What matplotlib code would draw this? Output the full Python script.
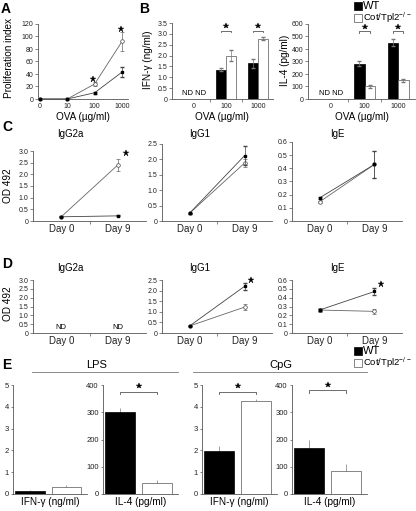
import numpy as np
import matplotlib
matplotlib.use("Agg")
from matplotlib import pyplot as plt

plt.rcParams['font.family'] = ['Liberation Sans', 'DejaVu Sans']

W, H = 416, 511

# ---- data ----
ova_doses = ['0', '10', '100', '1000']
prolif_wt = [0, 0, 10, 43]
prolif_wt_err = [0, 0, 1.5, 8]
prolif_ko = [0, 0, 24, 92]
prolif_ko_err = [0, 0, 3, 15]

b_doses = ['0', '100', '1000']
ifng_wt = [np.nan, 1.35, 1.65]
ifng_wt_err = [0, 0.07, 0.2]
ifng_ko = [np.nan, 2.0, 2.78]
ifng_ko_err = [0, 0.27, 0.08]
il4_wt = [np.nan, 280, 450]
il4_wt_err = [0, 20, 30]
il4_ko = [np.nan, 100, 148]
il4_ko_err = [0, 15, 12]

days = ['Day 0', 'Day 9']
c_igg2a_wt = [0.18, 0.22]
c_igg2a_wt_err = [0.02, 0.02]
c_igg2a_ko = [0.18, 2.4]
c_igg2a_ko_err = [0.02, 0.25]
c_igg1_wt = [0.25, 2.12]
c_igg1_wt_err = [0.02, 0.3]
c_igg1_ko = [0.25, 1.88]
c_igg1_ko_err = [0.02, 0.12]
c_ige_wt = [0.175, 0.43]
c_ige_wt_err = [0.01, 0.1]
c_ige_ko = [0.145, 0.43]
c_ige_ko_err = [0.01, 0.1]

d_igg1_wt = [0.33, 2.2]
d_igg1_wt_err = [0.02, 0.15]
d_igg1_ko = [0.33, 1.22]
d_igg1_ko_err = [0.02, 0.15]
d_ige_wt = [0.26, 0.47]
d_ige_wt_err = [0.01, 0.04]
d_ige_ko = [0.26, 0.245]
d_ige_ko_err = [0.02, 0.03]

e_lps_ifng = [0.15, 0.33]
e_lps_ifng_err = [0.02, 0.08]
e_lps_il4 = [300, 42]
e_lps_il4_err = [15, 8]
e_cpg_ifng = [1.95, 4.25]
e_cpg_ifng_err = [0.25, 0.12]
e_cpg_il4 = [170, 85]
e_cpg_il4_err = [30, 25]

GREY = '#555555'
KO_LABEL = 'Cot/Tpl2$^{\\mathregular{-/-}}$'
LBL = 7.2  # axis label size

fig = plt.figure(figsize=(W / 100, H / 100), dpi=100)


def px_ax(l, t, r, b):
    return fig.add_axes([l / W, 1 - b / H, (r - l) / W, (b - t) / H])


def ftext(x, y, s, **kw):
    kw.setdefault('ha', 'center')
    kw.setdefault('va', 'center')
    return fig.text(x / W, 1 - y / H, s, **kw)


def style(ax, ysize=5):
    for s in ['top', 'right']:
        ax.spines[s].set_visible(False)
    for s in ['left', 'bottom']:
        ax.spines[s].set_linewidth(0.6)
        ax.spines[s].set_color(GREY)
    ax.tick_params(length=2, width=0.5, labelsize=ysize, pad=1.5,
                   colors=GREY, labelcolor='#222222')


def dec_fmt(v, _=None):
    return '0' if abs(v) < 1e-9 else f'{v:.1f}'


def star(ax, x, y, ms=4.5):
    ax.plot([x], [y], marker='*', color='black', ms=ms, mec='black',
            mew=0.3, clip_on=False, zorder=6)


def bracket(ax, x0, x1, y, h, sy):
    ax.plot([x0, x0, x1, x1], [y - h, y, y, y - h], color=GREY, lw=0.6,
            clip_on=False)
    star(ax, (x0 + x1) / 2, sy, ms=4)


def lines(ax, x, wt, wt_err, ko, ko_err):
    ax.errorbar(x, ko, yerr=ko_err, color='#666666', lw=0.6, marker='o',
                ms=2.6, mfc='white', mec='#444444', mew=0.5, capsize=1.5,
                elinewidth=0.5, clip_on=False, zorder=3)
    ax.errorbar(x, wt, yerr=wt_err, color='#444444', lw=0.6, marker='s',
                ms=2.0, mfc='black', mec='black', capsize=1.5,
                elinewidth=0.5, clip_on=False, zorder=4)


# ---------------- A ----------------
ax = px_ax(38, 24, 128, 99)
style(ax)
xa = np.arange(len(ova_doses))
lines(ax, xa, prolif_wt, prolif_wt_err, prolif_ko, prolif_ko_err)
ax.set_xlim(-0.07, 3.22)
ax.set_ylim(0, 120)
ax.set_yticks(range(0, 121, 20))
ax.set_xticks(xa)
ax.set_xticklabels(ova_doses)
ax.tick_params(axis='x', length=0, pad=3)
for i in (2, 3):
    star(ax, xa[i] - 0.05, prolif_ko[i] + prolif_ko_err[i] + 5)
ftext(9, 58, 'Proliferation index', rotation=90, fontsize=LBL)
ftext(83, 117, 'OVA (\u00b5g/ml)', fontsize=LBL)
ftext(6, 9, 'A', fontsize=10, fontweight='bold')


def bar_pair(ax, xb, wt, wt_err, ko, ko_err, w=0.31, sym=True):
    ax.bar(xb - w / 2, wt, w, color='black', edgecolor='black', lw=0.5)
    ax.bar(xb + w / 2, ko, w, color='white', edgecolor='#555555', lw=0.5)
    ax.errorbar(xb - w / 2, wt, yerr=wt_err, fmt='none', ecolor='#777777',
                elinewidth=0.5, capsize=1.5, zorder=3)
    ax.errorbar(xb + w / 2, ko, yerr=ko_err, fmt='none', ecolor='#777777',
                elinewidth=0.5, capsize=1.5, zorder=3)


# ---------------- B: IFN-g ----------------
xb = np.arange(len(b_doses))
ax = px_ax(172, 23, 273, 99)
style(ax)
bar_pair(ax, xb, np.array(ifng_wt), ifng_wt_err, np.array(ifng_ko), ifng_ko_err)
ax.set_xlim(-0.69, 2.47)
ax.set_ylim(0, 3.5)
ax.set_yticks(np.arange(0, 3.51, 0.5))
ax.yaxis.set_major_formatter(dec_fmt)
ax.set_xticks(xb)
ax.set_xticklabels(b_doses)
ax.tick_params(axis='x', length=0, pad=3)
ax.set_xticks(xb[:-1] + 0.5, minor=True)
ax.tick_params(axis='x', which='minor', length=2, width=0.5, colors=GREY)
ax.text(xb[0], 0.08, 'ND ND', ha='center', va='bottom', fontsize=5.5)
for i in (1, 2):
    bracket(ax, xb[i] - 0.155, xb[i] + 0.155, 3.15, 0.08, 3.36)
ftext(148, 60, 'IFN-\u03b3 (ng/ml)', rotation=90, fontsize=LBL)
ftext(222, 117, 'OVA (\u00b5g/ml)', fontsize=LBL)
ftext(144, 9, 'B', fontsize=10, fontweight='bold')

# ---------------- B: IL-4 ----------------
ax = px_ax(308, 24, 415, 99)
style(ax)
bar_pair(ax, xb, np.array(il4_wt), il4_wt_err, np.array(il4_ko), il4_ko_err)
ax.set_xlim(-0.69, 2.5)
ax.set_ylim(0, 600)
ax.set_yticks(range(0, 601, 100))
ax.set_xticks(xb)
ax.set_xticklabels(b_doses)
ax.tick_params(axis='x', length=0, pad=3)
ax.set_xticks(xb[:-1] + 0.5, minor=True)
ax.tick_params(axis='x', which='minor', length=2, width=0.5, colors=GREY)
ax.text(xb[0], 14, 'ND ND', ha='center', va='bottom', fontsize=5.5)
for i in (1, 2):
    bracket(ax, xb[i] - 0.155, xb[i] + 0.155, 540, 14, 575)
ftext(285, 60, 'IL-4 (pg/ml)', rotation=90, fontsize=LBL)
ftext(362, 117, 'OVA (\u00b5g/ml)', fontsize=LBL)


def legend_at(x, y):
    fig.patches.append(plt.Rectangle((x / W, 1 - (y + 4) / H), 8 / W, 8 / H,
                                     transform=fig.transFigure,
                                     facecolor='black', edgecolor='black',
                                     lw=0.5))
    fig.patches.append(plt.Rectangle((x / W, 1 - (y + 16) / H), 8 / W, 8 / H,
                                     transform=fig.transFigure,
                                     facecolor='white', edgecolor='#555555',
                                     lw=0.5))
    ftext(x + 9, y, 'WT', ha='left', fontsize=8)
    ftext(x + 9, y + 12, KO_LABEL, ha='left', fontsize=6.8)


legend_at(354, 6)


# ---------------- C / D line panels ----------------
xd = np.array([0.5, 1.5])


def day_axes(l, t, r, b, ymax, step):
    ax = px_ax(l, t, r, b)
    style(ax)
    ax.set_xlim(0, 2)
    ax.set_ylim(0, ymax)
    ax.set_yticks(np.arange(0, ymax + 1e-9, step))
    ax.yaxis.set_major_formatter(dec_fmt)
    ax.set_xticks(xd)
    ax.set_xticklabels(days, fontsize=7)
    ax.tick_params(axis='x', length=0, pad=2)
    ax.set_xticks([1.0], minor=True)
    ax.tick_params(axis='x', which='minor', length=2, width=0.5, colors=GREY)
    return ax


row_c = 221
ax = day_axes(33, 151, 146, row_c, 3.0, 0.5)
lines(ax, xd, c_igg2a_wt, c_igg2a_wt_err, c_igg2a_ko, c_igg2a_ko_err)
star(ax, xd[1] + 0.15, 2.92)
ftext(70, 134, 'IgG2a', fontsize=7)

ax = day_axes(162, 144, 272, row_c, 2.5, 0.5)
lines(ax, xd, c_igg1_wt, c_igg1_wt_err, c_igg1_ko, c_igg1_ko_err)
ftext(200, 134, 'IgG1', fontsize=7)

ax = day_axes(292, 142, 402, row_c, 0.6, 0.1)
lines(ax, xd, c_ige_wt, c_ige_wt_err, c_ige_ko, c_ige_ko_err)
ftext(337, 134, 'IgE', fontsize=7)

ftext(8, 186, 'OD 492', rotation=90, fontsize=LBL)
ftext(7, 127, 'C', fontsize=10, fontweight='bold')

row_d = 333
ax = day_axes(33, 280, 146, row_d, 3.0, 0.5)
for x in xd:
    ax.text(x, 0.12, 'ND', ha='center', va='bottom', fontsize=5.5)
ftext(70, 268, 'IgG2a', fontsize=7)

ax = day_axes(162, 280, 272, row_d, 2.5, 0.5)
lines(ax, xd, d_igg1_wt, d_igg1_wt_err, d_igg1_ko, d_igg1_ko_err)
star(ax, xd[1] + 0.12, 2.52)
ftext(200, 268, 'IgG1', fontsize=7)

ax = day_axes(292, 280, 402, row_d, 0.6, 0.1)
lines(ax, xd, d_ige_wt, d_ige_wt_err, d_ige_ko, d_ige_ko_err)
star(ax, xd[1] + 0.12, 0.555)
ftext(337, 268, 'IgE', fontsize=7)

ftext(8, 304, 'OD 492', rotation=90, fontsize=LBL)
ftext(7, 264, 'D', fontsize=10, fontweight='bold')

legend_at(354, 351)


# ---------------- E ----------------
def e_axes(l, r, ymax, step, vals, errs, label):
    ax = px_ax(l, 385, r, 494)
    style(ax)
    xe = np.arange(2)
    ax.bar(xe[0], vals[0], 0.8, color='black', edgecolor='black', lw=0.5)
    ax.bar(xe[1], vals[1], 0.8, color='white', edgecolor='#555555', lw=0.5)
    ax.errorbar(xe, vals, yerr=[np.zeros(2), errs], fmt='none',
                ecolor='#777777', elinewidth=0.5, capsize=0, zorder=0)
    ax.set_xlim(-0.46, 1.56)
    ax.set_ylim(0, ymax)
    ax.set_yticks(np.arange(0, ymax + 1e-9, step))
    ax.yaxis.set_major_formatter(lambda v, _: f'{v:.0f}')
    ax.tick_params(axis='y', length=1.5, labelsize=5.5)
    ax.set_xticks([])
    ax.set_xlabel(label, fontsize=LBL, labelpad=2)
    return ax


e_lbl_ifng = 'IFN-\u03b3 (ng/ml)'
e_lbl_il4 = 'IL-4 (pg/ml)'
e_axes(13, 87, 5, 1, e_lps_ifng, e_lps_ifng_err, e_lbl_ifng)
ax = e_axes(103, 178, 400, 100, e_lps_il4, e_lps_il4_err, e_lbl_il4)
bracket(ax, 0, 1, 375, 8, 396)
ax = e_axes(202, 277, 5, 1, e_cpg_ifng, e_cpg_ifng_err, e_lbl_ifng)
bracket(ax, 0, 1, 4.7, 0.1, 4.95)
ax = e_axes(292, 367, 400, 100, e_cpg_il4, e_cpg_il4_err, e_lbl_il4)
bracket(ax, 0, 1, 380, 8, 401)

ftext(7, 365, 'E', fontsize=10, fontweight='bold')
ftext(97, 365, 'LPS', fontsize=8)
ftext(281, 365, 'CpG', fontsize=8)
for x0, x1 in ((32, 178), (193, 367)):
    fig.add_artist(plt.Line2D([x0 / W, x1 / W], [1 - 372 / H, 1 - 372 / H],
                              transform=fig.transFigure, color='#777777',
                              lw=0.6))

fig.savefig('out.png', dpi=100)
